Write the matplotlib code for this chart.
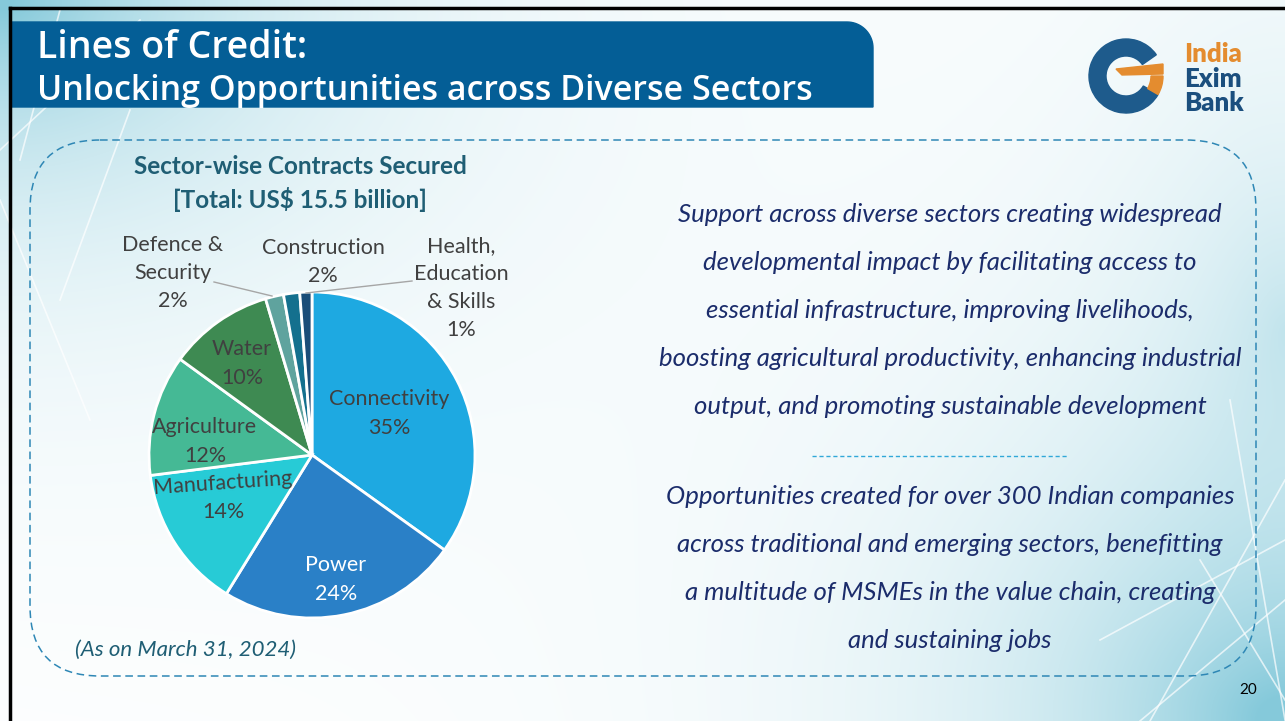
import matplotlib.pyplot as plt
import numpy as np
from matplotlib.patches import Polygon, FancyBboxPatch, Wedge

# chart data
sectors = ['Connectivity', 'Power', 'Manufacturing', 'Agriculture', 'Water',
           'Defence &\nSecurity', 'Construction', 'Health,\nEducation\n& Skills']
shares = [34.9, 23.9, 14.2, 12.0, 10.4, 1.8, 1.6, 1.2]
pct_labels = ['35%', '24%', '14%', '12%', '10%', '2%', '2%', '1%']
colors = ['#1EA9E1', '#2A80C7', '#27CBD6', '#45B995', '#3E8A52', '#5FA39E', '#14708E', '#1B4D78']

points_1 = ['Support across diverse sectors creating widespread',
            'developmental impact by facilitating access to',
            'essential infrastructure, improving livelihoods,',
            'boosting agricultural productivity, enhancing industrial',
            'output, and promoting sustainable development']
points_2 = ['Opportunities created for over 300 Indian companies',
            'across traditional and emerging sectors, benefitting',
            'a multitude of MSMEs in the value chain, creating',
            'and sustaining jobs']

W, H = 1285, 721
fig = plt.figure(figsize=(W / 100, H / 100), dpi=100)
bg = fig.add_axes([0, 0, 1, 1])
bg.set_xlim(0, W)
bg.set_ylim(H, 0)
bg.axis('off')

# soft teal background corners
yy, xx = np.mgrid[0:H, 0:W]
teal = np.array([0.50, 0.78, 0.85])
w1 = np.exp(-np.hypot(xx / 1.4, yy) / 180.0)
w2 = np.exp(-np.hypot((W - xx) / 1.2, (H - yy)) / 190.0)
w3 = 0.35 * np.exp(-np.hypot(W - xx, (yy - 330) / 2.0) / 120.0)
w = np.clip(w1 + w2 + w3, 0, 0.95)
img = np.ones((H, W, 3)) * (1 - w[..., None]) + teal * w[..., None]
bg.imshow(img, extent=[0, W, H, 0], zorder=0, aspect='auto')

# faint network lines
for (x0, y0, x1, y1) in [(0, 150, 140, 20), (60, 10, 20, 160), (130, 110, 60, 300),
                         (1285, 480, 1150, 721), (1200, 560, 1285, 700), (1140, 721, 1285, 600),
                         (1100, 640, 1285, 540), (1230, 400, 1285, 720), (0, 200, 90, 420)]:
    bg.plot([x0, x1], [y0, y1], color='white', lw=1.2, alpha=0.7, zorder=1)

# black frame
bg.plot([10, 10], [H, 8], color='black', lw=2.5, zorder=10)
bg.plot([10, W], [8, 8], color='black', lw=2.5, zorder=10)

# title banner with rounded top-right corner
r = 26
arc = np.linspace(np.pi / 2, 0, 20)
pts = [(11, 107), (11, 22), (873 - r, 22)]
pts += [(873 - r + r * np.cos(a), 22 + r - r * np.sin(a)) for a in arc]
pts += [(873, 107)]
bg.add_patch(Polygon(pts, closed=True, color='#045E96', zorder=2))
bg.text(37, 58, 'Lines of Credit:', color='white', fontsize=27, family='Open Sans',
        fontweight='semibold', va='baseline', ha='left', zorder=3)
bg.text(37, 100, 'Unlocking Opportunities across Diverse Sectors', color='white', fontsize=24.5,
        family='Open Sans', fontweight='semibold', va='baseline', ha='left', zorder=3)

# logo
bg.add_patch(Wedge((1126, 76), 37, 30, 325, width=17, color='#1E5B8C', zorder=3))
bg.add_patch(Wedge((1126, 76), 37, 0, 30, width=12, color='#E48C2F', zorder=3))
bg.add_patch(Polygon([(1116, 69), (1163, 64), (1163, 74), (1122, 75)], closed=True,
                     color='#E48C2F', zorder=4))
bg.text(1184, 54, 'India', color='#E48C2F', fontsize=18.5, fontweight='heavy', family='Lato',
        va='center', ha='left', zorder=4)
bg.text(1184, 79, 'Exim', color='#1B4F7E', fontsize=18.5, fontweight='heavy', family='Lato',
        va='center', ha='left', zorder=4)
bg.text(1184, 103, 'Bank', color='#1B4F7E', fontsize=18.5, fontweight='heavy', family='Lato',
        va='center', ha='left', zorder=4)

# dashed rounded frame
bg.add_patch(FancyBboxPatch((100, 210), 1086, 396, boxstyle='round,pad=70',
                            fill=False, ec='#2E87B5', lw=1.1, ls=(0, (5, 3)), zorder=2))

# chart title
bg.text(300, 167, 'Sector-wise Contracts Secured', color='#1F5E74', fontsize=17.5,
        fontweight='bold', family='Lato', ha='center', va='center', zorder=3)
bg.text(300, 199, '[Total: US$ 15.5 billion]', color='#1F5E74', fontsize=17.5,
        fontweight='bold', family='Lato', ha='center', va='center', zorder=3)

# pie
cx, cy, rad = 312, 455, 163
pax = fig.add_axes([(cx - rad) / W, 1 - (cy + rad) / H, 2 * rad / W, 2 * rad / H])
pax.pie(shares, colors=colors, startangle=90, counterclock=False,
        wedgeprops=dict(edgecolor='white', linewidth=2))
pax.set_xlim(-1, 1)
pax.set_ylim(-1, 1)
pax.axis('off')

# overlay for labels on top of the pie
top = fig.add_axes([0, 0, 1, 1], facecolor='none')
top.set_xlim(0, W)
top.set_ylim(H, 0)
top.axis('off')

label_pos = [(389, 413), (336, 579), (223, 497), (205, 441), (242, 363),
             (173, 273), (323, 262), (461, 288)]
label_col = ['#404040', 'white', '#404040', '#404040', '#404040', '#404040', '#404040', '#404040']
for i, (name, pct) in enumerate(zip(sectors, pct_labels)):
    x, y = label_pos[i]
    rot = 4 if name == 'Manufacturing' else 0
    if i < 5:
        top.text(x, y - 14, name, color=label_col[i], fontsize=15.5, family='Lato',
                 ha='center', va='center', rotation=rot)
        top.text(x, y + 15, pct, color=label_col[i], fontsize=15.5, family='Lato',
                 ha='center', va='center')
    else:
        top.text(x, y, name + '\n' + pct, color=label_col[i], fontsize=15.5, family='Lato',
                 ha='center', va='center', linespacing=1.5)

# leader lines
top.plot([214, 272], [282, 296], color='#A6A6A6', lw=1)
top.plot([412, 306], [281, 293], color='#A6A6A6', lw=1)

# right text
for i, line in enumerate(points_1):
    top.text(950, 215 + 48 * i, line, color='#1B2C6B', fontsize=18.5, style='italic',
             family='Lato', ha='center', va='center')
top.plot([812, 1067], [456, 456], color='#31A8D8', lw=1, ls=(0, (3, 2)))
for i, line in enumerate(points_2):
    top.text(950, 496 + 48 * i, line, color='#1B2C6B', fontsize=18.5, style='italic',
             family='Lato', ha='center', va='center')

top.text(75, 650, '(As on March 31, 2024)', color='#1F5E74', fontsize=16, style='italic',
         family='Lato', ha='left', va='center')
top.text(1248, 690, '20', color='black', fontsize=11, family='Lato', ha='center',
         va='center')

fig.savefig('out.png', dpi=100)
